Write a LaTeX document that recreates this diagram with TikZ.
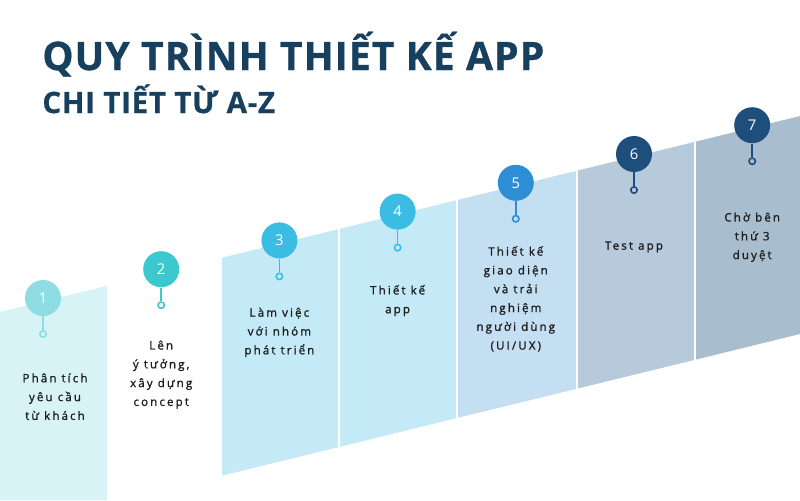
\documentclass[tikz,border=0pt]{standalone}
\usepackage{fontspec}
\setmainfont{Open Sans}
\newfontfamily\stepfont[LetterSpace=18,FakeBold=1.2]{Open Sans}
\newfontfamily\headfont[LetterSpace=2.7,FakeBold=0.8]{Open Sans Bold}
\usetikzlibrary{positioning}

\definecolor{titleblue}{HTML}{17405F}
\definecolor{txtgray}{HTML}{1E1E1E}
\definecolor{pan1}{HTML}{D8F3F6}
\definecolor{pan3}{HTML}{C3EAF6}
\definecolor{pan5}{HTML}{C4DEF2}
\definecolor{pan6}{HTML}{B7CADB}
\definecolor{pan7}{HTML}{A8BDCE}
\definecolor{dot1}{HTML}{8EDDE3}
\definecolor{dot2}{HTML}{3CC8CF}
\definecolor{dot3}{HTML}{3BBCE3}
\definecolor{dot5}{HTML}{2D8ED4}
\definecolor{dot6}{HTML}{1D4E7C}

\begin{document}
\begin{tikzpicture}[x=0.5pt, y=-0.5pt,
    numdot/.style = {circle, on grid, minimum size=18pt, inner sep=0pt,
                     text=white, font=\fontsize{7.4}{8}\selectfont},
    endring/.style = {circle, on grid, minimum size=3.2pt, inner sep=0pt,
                      line width=0.8pt, draw},
    stem/.style = {line width=0.8pt},
    steptext/.style = {align=center, inner sep=0pt, text=txtgray,
                       font=\stepfont\fontsize{5.8}{9.4}\selectfont},
    bigtitle/.style = {anchor=base west, inner sep=0pt, text=titleblue,
                       font=\headfont\fontsize{19.6}{20}\selectfont}]
\fill[white] (0,0) rectangle (800,500);
\useasboundingbox (0,0) rectangle (800,500);

% slanted band
\fill[pan1] (0,312) -- (107,285.8) -- (107,500) -- (0,500) -- cycle;
\fill[pan3] (222,257.7) -- (339,229) -- (339,447) -- (222,475.7) -- cycle;
\fill[pan3] (339,229) -- (457,200.1) -- (457,418) -- (339,447) -- cycle;
\fill[pan5] (457,200.1) -- (577,170.7) -- (577,388.7) -- (457,418) -- cycle;
\fill[pan6] (577,170.7) -- (695,141.8) -- (695,359.8) -- (577,388.7) -- cycle;
\fill[pan7] (695,141.8) -- (800,116) -- (800,334) -- (695,359.8) -- cycle;
\draw[white, line width=0.75pt] (339,229) -- (339,447)
    (457,200.1) -- (457,418) (577,170.7) -- (577,388.7) (695,141.8) -- (695,359.8);

\node[bigtitle] (title) at (42,70) {QUY TRÌNH THIẾT KẾ APP};
\node[bigtitle, font=\headfont\fontsize{14.7}{16}\selectfont] (subtitle) at (42,113) {CHI TIẾT TỪ A-Z};

\node[numdot, fill=dot1] (c1) at (43,298) {1};
\node[numdot, fill=dot2] (c2) [above right=14.4pt and 59.1pt of c1] {2};
\node[numdot, fill=dot3] (c3) [above right=14.4pt and 59.1pt of c2] {3};
\node[numdot, fill=dot3] (c4) [above right=14.4pt and 59.1pt of c3] {4};
\node[numdot, fill=dot5] (c5) [above right=14.4pt and 59.1pt of c4] {5};
\node[numdot, fill=dot6] (c6) [above right=14.4pt and 59.1pt of c5] {6};
\node[numdot, fill=dot6] (c7) [above right=14.4pt and 59.1pt of c6] {7};

\node[endring, draw=dot1] (r1) [below=18pt of c1] {};
\node[endring, draw=dot2] (r2) [below=18pt of c2] {};
\node[endring, draw=dot3] (r3) [below=18pt of c3] {};
\node[endring, draw=dot3] (r4) [below=18pt of c4] {};
\node[endring, draw=dot5] (r5) [below=18pt of c5] {};
\node[endring, draw=dot6] (r6) [below=18pt of c6] {};
\node[endring, draw=dot6] (r7) [below=18pt of c7] {};

\draw[stem, dot1] (c1) -- (r1);
\draw[stem, dot2] (c2) -- (r2);
\draw[stem, dot3] (c3) -- (r3);
\draw[stem, dot3] (c4) -- (r4);
\draw[stem, dot5] (c5) -- (r5);
\draw[stem, dot6] (c6) -- (r6);
\draw[stem, dot6] (c7) -- (r7);

\node[steptext] (t1) [below=17.5pt of r1, xshift=6pt] {Phân tích\\yêu cầu\\từ khách};
\node[steptext] (t2) [below=15.5pt of r2] {Lên\\ý tưởng,\\xây dựng\\concept};
\node[steptext] (t3) [below=13.5pt of r3] {Làm việc\\với nhóm\\phát triển};
\node[steptext] (t4) [below=16.5pt of r4] {Thiết kế\\app};
\node[steptext] (t5) [below=11.5pt of r5] {Thiết kế\\giao diện\\và trải\\nghiệm\\người dùng\\(UI/UX)};
\node[steptext] (t6) [below=23.5pt of r6] {Test app};
\node[steptext] (t7) [below=23.5pt of r7] {Chờ bên\\thứ 3\\duyệt};
\end{tikzpicture}
\end{document}
